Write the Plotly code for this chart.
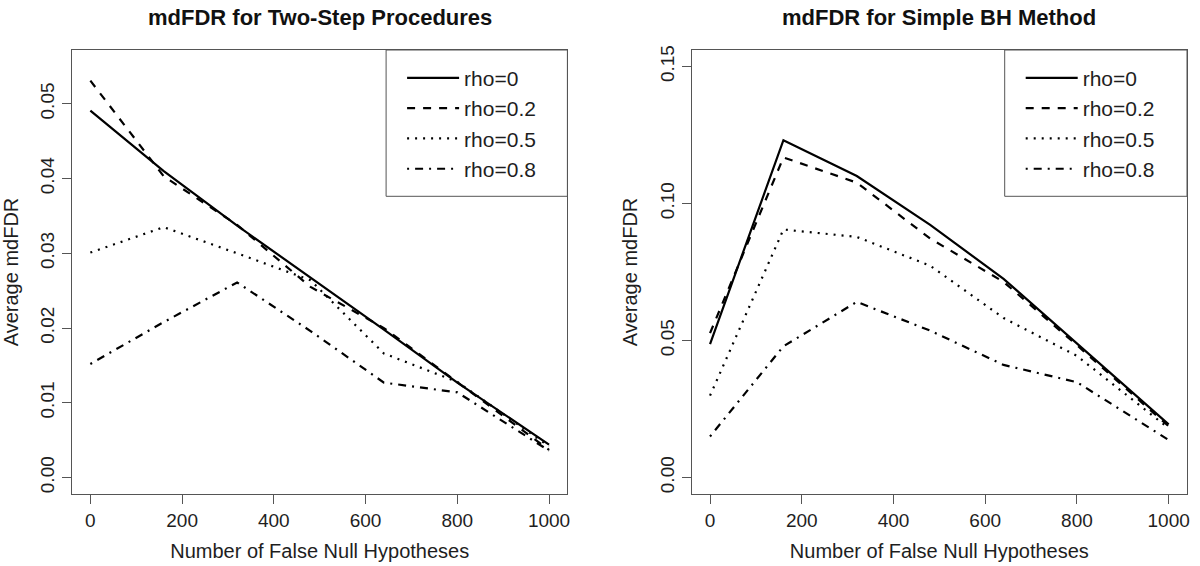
import plotly.graph_objects as go

# ---------------- data ----------------
x_vals = [0, 160, 320, 480, 640, 800, 1000]
series_names = ["rho=0", "rho=0.2", "rho=0.5", "rho=0.8"]

left_rho0 = [0.0491, 0.0410, 0.0337, 0.0268, 0.0198, 0.0127, 0.0044]
left_rho02 = [0.0531, 0.0403, 0.0338, 0.0255, 0.0200, 0.0128, 0.0037]
left_rho05 = [0.0301, 0.0335, 0.0300, 0.0264, 0.0166, 0.0128, 0.0042]
left_rho08 = [0.0152, 0.0208, 0.0261, 0.0196, 0.0127, 0.0114, 0.0036]

right_rho0 = [0.0487, 0.1231, 0.1100, 0.0922, 0.0725, 0.0490, 0.0194]
right_rho02 = [0.0527, 0.1168, 0.1076, 0.0872, 0.0714, 0.0483, 0.0187]
right_rho05 = [0.0299, 0.0905, 0.0878, 0.0773, 0.0582, 0.0444, 0.0180]
right_rho08 = [0.0150, 0.0479, 0.0641, 0.0536, 0.0411, 0.0348, 0.0137]

x_ticks = [0, 200, 400, 600, 800, 1000]
left_y_ticks = [0.00, 0.01, 0.02, 0.03, 0.04, 0.05]
right_y_ticks = [0.00, 0.05, 0.10, 0.15]

title_left = "mdFDR for Two-Step Procedures"
title_right = "mdFDR for Simple BH Method"
x_title = "Number of False Null Hypotheses"
y_title = "Average mdFDR"

# ---------------- styling ----------------
W, H = 1200, 566
ML, MR, MT, MB = 72.3, 12.7, 49.7, 72.3
PW = W - ML - MR
PH = H - MT - MB
FONT = "Liberation Sans, Arial, Helvetica, sans-serif"
TXT = "#1e1e1e"
BOX = "#555555"
dashes = ["solid", "8px,8px", "2px,6px", "2px,6px,8px,6px"]


def px_x(p):
    return (p - ML) / PW


def px_y(p):
    return (H - MB - p) / PH


left_dom = [0.0, px_x(567.7)]
right_dom = [px_x(692.0), 1.0]

fig = go.Figure()

left_series = [left_rho0, left_rho02, left_rho05, left_rho08]
right_series = [right_rho0, right_rho02, right_rho05, right_rho08]

for name, ys, d in zip(series_names, left_series, dashes):
    fig.add_trace(go.Scatter(
        x=x_vals, y=ys, mode="lines", name=name,
        line=dict(color="#000000", width=2.2, dash=d),
        xaxis="x", yaxis="y", legend="legend",
    ))
for name, ys, d in zip(series_names, right_series, dashes):
    fig.add_trace(go.Scatter(
        x=x_vals, y=ys, mode="lines", name=name,
        line=dict(color="#000000", width=2.2, dash=d),
        xaxis="x2", yaxis="y2", legend="legend2",
    ))

axis_common = dict(
    showline=True, mirror=True, linecolor=BOX, linewidth=1,
    ticks="outside", ticklen=9, tickcolor=BOX, tickwidth=1,
    showgrid=False, zeroline=False,
    tickfont=dict(family=FONT, size=19, color=TXT),
)

legend_common = dict(
    xanchor="left", yanchor="top",
    bgcolor="rgba(0,0,0,0)", borderwidth=0,
    font=dict(family=FONT, size=21, color=TXT), itemwidth=52,
    tracegroupgap=0,
)

fig.update_layout(
    width=W, height=H,
    margin=dict(l=ML, r=MR, t=MT, b=MB, autoexpand=False),
    paper_bgcolor="white", plot_bgcolor="white",
    font=dict(family=FONT, color=TXT),
    xaxis=dict(domain=left_dom, range=[-40, 1040], anchor="y",
               tickvals=x_ticks,
               title=dict(text=x_title, font=dict(family=FONT, size=20, color=TXT), standoff=14),
               **axis_common),
    yaxis=dict(domain=[0, 1], range=[-0.0022, 0.0572], anchor="x",
               tickvals=left_y_ticks, tickformat=".2f", tickangle=-90,
               title=dict(text=y_title, font=dict(family=FONT, size=20, color=TXT), standoff=14),
               **axis_common),
    xaxis2=dict(domain=right_dom, range=[-40, 1040], anchor="y2",
                tickvals=x_ticks,
                title=dict(text=x_title, font=dict(family=FONT, size=20, color=TXT), standoff=14),
                **axis_common),
    yaxis2=dict(domain=[0, 1], range=[-0.006, 0.156], anchor="x2",
                tickvals=right_y_ticks, tickformat=".2f", tickangle=-90,
                title=dict(text=y_title, font=dict(family=FONT, size=20, color=TXT), standoff=14),
                **axis_common),
    legend=dict(x=px_x(386.4 + 16), y=px_y(49.7 + 7.7), **legend_common),
    legend2=dict(x=px_x(1005.0 + 16), y=px_y(49.7 + 7.7), **legend_common),
    showlegend=True,
)

# legend boxes (R-style frame)
for x0, x1 in [(386.4, 567.7), (1005.0, 1187.3)]:
    fig.add_shape(type="rect", xref="paper", yref="paper",
                  x0=px_x(x0), x1=px_x(x1), y0=px_y(196.0), y1=px_y(49.7),
                  line=dict(color=BOX, width=1), fillcolor="rgba(0,0,0,0)", layer="above")

# panel titles
for cx, t in [((72.3 + 567.7) / 2, title_left), ((692.0 + 1187.3) / 2, title_right)]:
    fig.add_annotation(text="<b>%s</b>" % t, xref="paper", yref="paper",
                       x=px_x(cx), y=px_y(17), xanchor="center", yanchor="middle",
                       showarrow=False, font=dict(family=FONT, size=22, color="#111111"))

fig.write_html("out.html", config={"displayModeBar": False},
               post_script="document.body.style.margin='0';")
